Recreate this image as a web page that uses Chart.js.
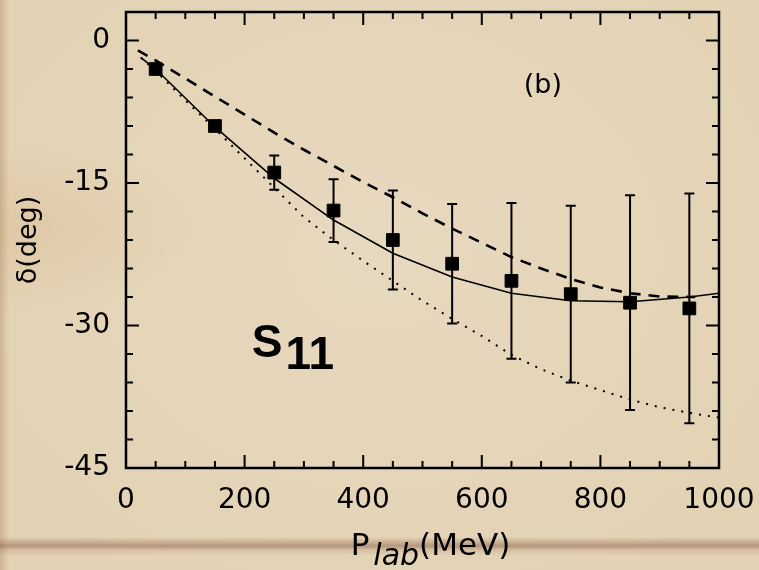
<!DOCTYPE html>
<html><head><meta charset="utf-8">
<script src="https://cdn.jsdelivr.net/npm/chart.js@4/dist/chart.umd.min.js"></script>
<style>
html,body{margin:0;padding:0;}
body{width:759px;height:570px;overflow:hidden;background:#e5d5b8;}
#wrap{position:relative;width:759px;height:570px;background:
 linear-gradient(to bottom, rgba(0,0,0,0) 537px, rgba(150,100,70,0.3) 542px, rgba(120,75,55,0.45) 546px, rgba(160,110,80,0.2) 550px, rgba(0,0,0,0) 556px),
 linear-gradient(to right, rgba(150,100,55,0.28) 0px, rgba(150,100,55,0) 9px),
 radial-gradient(ellipse at 2% 40%, rgba(215,180,135,0.35), rgba(0,0,0,0) 18%),
 radial-gradient(ellipse at 50% 45%, #e7d9bf, #e3d2b4 85%);}
canvas{position:absolute;left:0;top:0;}
</style></head>
<body><div id="wrap"><canvas id="c" width="759" height="570"></canvas></div>
<script>
// ---- data ----
const pointEnergies = [50,150,250,350,450,550,650,750,850,950];
const pointPhases   = [-3.0,-9.0,-13.9,-17.9,-21.0,-23.5,-25.3,-26.7,-27.6,-28.2];
const pointErrors   = [0,0,1.8,3.3,5.2,6.3,8.2,9.3,11.3,12.1];

const solidEnergies = [25,50,150,250,350,450,550,650,750,850,950,1000];
const solidPhases   = [-1.8,-3.0,-9.1,-14.5,-18.9,-22.4,-24.9,-26.6,-27.4,-27.5,-27.0,-26.6];

const dashedEnergies = [20,50,100,150,200,250,300,350,400,450,500,550,600,650,700,750,800,850,900,960];
const dashedPhases   = [-1.05,-2.1,-4.0,-5.9,-7.8,-9.7,-11.5,-13.2,-14.9,-16.5,-18.2,-19.8,-21.3,-22.8,-24.0,-25.1,-26.0,-26.6,-26.95,-27.0];

const dottedEnergies = [25,50,100,150,200,250,300,350,400,450,500,550,600,650,700,750,800,850,900,950,1000];
const dottedPhases   = [-1.8,-3.2,-6.3,-9.3,-12.4,-15.5,-18.6,-21.0,-23.2,-25.3,-27.4,-29.3,-31.1,-33.1,-34.6,-35.8,-36.8,-37.8,-38.6,-39.2,-39.7];

const xTickLabels = [0,200,400,600,800,1000];
const yTickLabels = [0,-15,-30,-45];

const toXY = (xs, ys) => xs.map((x,i)=>({x:x, y:ys[i]}));

const decor = {
  id:'decor',
  beforeDatasetsDraw(chart){
    const ctx = chart.ctx, xs = chart.scales.x, ys = chart.scales.y;
    ctx.save();
    ctx.strokeStyle = '#000'; ctx.lineWidth = 2;
    pointEnergies.forEach((e,i)=>{
      const err = pointErrors[i];
      if (!err) return;
      const px = xs.getPixelForValue(e);
      const yt = ys.getPixelForValue(pointPhases[i]+err);
      const yb = ys.getPixelForValue(pointPhases[i]-err);
      ctx.beginPath();
      ctx.moveTo(px, yt); ctx.lineTo(px, yb);
      ctx.moveTo(px-5, yt); ctx.lineTo(px+5, yt);
      ctx.moveTo(px-5, yb); ctx.lineTo(px+5, yb);
      ctx.stroke();
    });
    ctx.restore();
  },
  afterDraw(chart){
    const ctx = chart.ctx, a = chart.chartArea, xs = chart.scales.x, ys = chart.scales.y;
    ctx.save();
    ctx.strokeStyle = '#000'; ctx.lineWidth = 2.5;
    ctx.strokeRect(a.left, a.top, a.right-a.left, a.bottom-a.top);
    ctx.lineWidth = 2;
    ctx.beginPath();
    for (let v = 50; v < 1000; v += 50) {
      const px = xs.getPixelForValue(v);
      const L = (v % 200 === 0) ? 13 : 7;
      ctx.moveTo(px, a.bottom); ctx.lineTo(px, a.bottom - L);
      ctx.moveTo(px, a.top); ctx.lineTo(px, a.top + L);
    }
    for (let v = -42; v <= 0; v += 3) {
      const py = ys.getPixelForValue(v);
      const L = (v % 15 === 0) ? 13 : 7;
      ctx.moveTo(a.left, py); ctx.lineTo(a.left + L, py);
      ctx.moveTo(a.right, py); ctx.lineTo(a.right - L, py);
    }
    ctx.stroke();

    ctx.fillStyle = '#000';
    // panel label
    ctx.font = '27px "DejaVu Sans"';
    ctx.textAlign = 'center'; ctx.textBaseline = 'middle';
    ctx.fillText('(b)', xs.getPixelForValue(703), ys.getPixelForValue(-4.8));
    // S11
    ctx.textAlign = 'left'; ctx.textBaseline = 'alphabetic';
    ctx.font = 'bold 46px "Liberation Sans"';
    const sx = xs.getPixelForValue(212), sy = ys.getPixelForValue(-33.3);
    ctx.fillText('S', sx, sy);
    const sw = ctx.measureText('S').width;
    ctx.fillText('11', sx + sw + 3, sy + 12);

    // x title: P_lab(MeV)
    const cx = (a.left + a.right)/2 + 8;
    const by = a.bottom + 87;
    ctx.font = '31px "DejaVu Sans"';
    const wP = ctx.measureText('P').width;
    const wM = ctx.measureText('(MeV)').width;
    ctx.font = 'italic 30px "DejaVu Sans"';
    const wL = ctx.measureText('lab').width;
    let x0 = cx - (wP + 4 + wL + wM)/2;
    ctx.font = '31px "DejaVu Sans"';
    ctx.fillText('P', x0, by);
    ctx.font = 'italic 30px "DejaVu Sans"';
    ctx.fillText('lab', x0 + wP + 4, by + 10);
    ctx.font = '31px "DejaVu Sans"';
    ctx.fillText('(MeV)', x0 + wP + 4 + wL, by);

    // y title
    ctx.save();
    ctx.translate(29, (a.top + a.bottom)/2);
    ctx.rotate(-Math.PI/2);
    ctx.textAlign = 'center'; ctx.textBaseline = 'middle';
    ctx.font = '27px "DejaVu Sans"';
    ctx.fillText('\u03b4(deg)', 0, 0);
    ctx.restore();
    ctx.restore();
  }
};

new Chart(document.getElementById('c'), {
  type: 'scatter',
  data: {
    datasets: [
      { data: toXY(solidEnergies, solidPhases), showLine: true, borderColor:'#000', borderWidth:1.6, pointRadius:0, tension:0, fill:false },
      { data: toXY(dashedEnergies, dashedPhases), showLine: true, borderColor:'#000', borderWidth:2.6, borderDash:[11,8], pointRadius:0, tension:0, fill:false },
      { data: toXY(dottedEnergies, dottedPhases), showLine: true, borderColor:'#000', borderWidth:2, borderDash:[2,7], pointRadius:0, tension:0, fill:false },
      { data: toXY(pointEnergies, pointPhases), showLine: false, pointStyle:'rect', pointRadius:9, backgroundColor:'#000', borderColor:'#000', borderWidth:1 }
    ]
  },
  options: {
    responsive: false,
    animation: false,
    events: [],
    layout: { padding: { top: 12, right: 40, left: 0, bottom: 0 } },
    plugins: { legend: { display:false }, tooltip: { enabled:false } },
    scales: {
      x: {
        type:'linear', min:0, max:1000,
        grid: { display:false, drawTicks:false },
        border: { display:false },
        afterBuildTicks: s => { s.ticks = xTickLabels.map(v=>({value:v})); },
        afterFit: s => { s.height = 102; s.paddingLeft = 0; s.paddingRight = 0; },
        ticks: { color:'#000', font:{ family:'DejaVu Sans', size:28 }, padding:16, maxRotation:0, autoSkip:false, callback: v => String(v) }
      },
      y: {
        type:'linear', min:-45, max:3,
        grid: { display:false, drawTicks:false },
        border: { display:false },
        afterBuildTicks: s => { s.ticks = yTickLabels.map(v=>({value:v})); },
        afterFit: s => { s.width = 126; s.paddingTop = 0; s.paddingBottom = 0; },
        ticks: { color:'#000', font:{ family:'DejaVu Sans', size:28 }, padding:16, callback: v => String(v) }
      }
    }
  },
  plugins: [decor]
});
</script>
</body></html>
